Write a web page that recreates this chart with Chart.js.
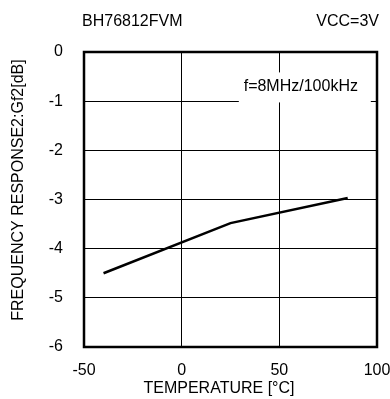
<!DOCTYPE html>
<html>
<head>
<meta charset="utf-8">
<script src="https://cdn.jsdelivr.net/npm/chart.js@4/dist/chart.umd.min.js"></script>
<style>
  html, body { margin: 0; padding: 0; background: #fff; }
  #wrap { width: 390px; height: 399px; }
</style>
</head>
<body>
<div id="wrap"><canvas id="c" width="390" height="399"></canvas></div>
<script>
// temperature [°C] and Gf2 [dB]
const temps = [-40, 25, 85];
const gain = [-4.5, -3.48, -2.97];

const xTicks = [-50, 0, 50, 100];
const yTicks = [0, -1, -2, -3, -4, -5, -6];

const FONT = "'Liberation Sans', Arial, sans-serif";

const decor = {
    id: "decor",
    beforeDatasetsDraw(chart) {
        const { ctx } = chart;
        const x = chart.scales.x, y = chart.scales.y;
        // white box under the condition label
        const cx = x.getPixelForValue(61), cy = y.getPixelForValue(-0.7);
        ctx.save();
        ctx.fillStyle = "#fff";
        ctx.fillRect(cx - 62, cy - 14, 132, 30);
        ctx.fillStyle = "#000";
        ctx.font = "16px " + FONT;
        ctx.textAlign = "center";
        ctx.textBaseline = "middle";
        ctx.fillText("f=8MHz/100kHz", cx, cy);
        ctx.restore();
    },
    afterDraw(chart) {
        const { ctx, chartArea: a } = chart;
        ctx.save();
        ctx.strokeStyle = "#000";
        ctx.lineWidth = 2.5;
        ctx.strokeRect(a.left, a.top, a.right - a.left, a.bottom - a.top);

        ctx.fillStyle = "#000";
        ctx.font = "16px " + FONT;
        ctx.textBaseline = "alphabetic";
        ctx.textAlign = "left";
        ctx.fillText("BH76812FVM", 82, 26);
        ctx.textAlign = "right";
        ctx.fillText("VCC=3V", 379, 26);

        ctx.textAlign = "center";
        ctx.fillText("TEMPERATURE [\u00b0C]", 219, 393);

        ctx.translate(23, 190);
        ctx.rotate(-Math.PI / 2);
        ctx.fillText("FREQUENCY RESPONSE2:Gf2[dB]", 0, 0);
        ctx.restore();
    }
};

new Chart(document.getElementById("c"), {
    type: "line",
    data: {
        datasets: [{
            data: temps.map((t, i) => ({ x: t, y: gain[i] })),
            borderColor: "#000",
            borderWidth: 2.5,
            pointRadius: 0,
            tension: 0,
            fill: false,
        }],
    },
    options: {
        responsive: false,
        animation: false,
        events: [],
        layout: { padding: { top: 52, right: 0, left: 0, bottom: 0 } },
        plugins: { legend: { display: false }, tooltip: { enabled: false } },
        scales: {
            x: {
                type: "linear",
                min: -50,
                max: 100,
                afterFit(s) { s.height = 52; s.paddingRight = 13; },
                afterBuildTicks(s) { s.ticks = xTicks.map(v => ({ value: v })); },
                grid: { color: "#000", lineWidth: 1, drawTicks: false },
                border: { display: false },
                ticks: { color: "#000", padding: 14, maxRotation: 0, font: { family: FONT, size: 16 } },
            },
            y: {
                type: "linear",
                min: -6,
                max: 0,
                afterFit(s) { s.width = 84; },
                afterBuildTicks(s) { s.ticks = yTicks.map(v => ({ value: v })); },
                grid: { color: "#000", lineWidth: 1, drawTicks: false },
                border: { display: false },
                ticks: { color: "#000", padding: 21, font: { family: FONT, size: 16 } },
            },
        },
    },
    plugins: [decor],
});
</script>
</body>
</html>
